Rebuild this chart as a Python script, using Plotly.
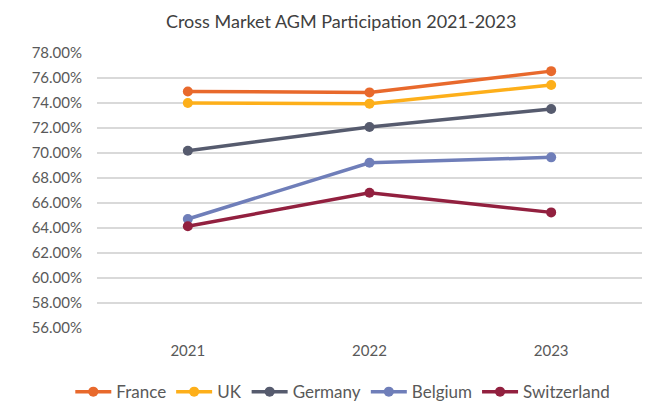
import plotly.graph_objects as go

years = ["2021", "2022", "2023"]
france = [74.92, 74.85, 76.55]
uk = [74.0, 73.95, 75.44]
germany = [70.18, 72.08, 73.52]
belgium = [64.72, 69.22, 69.65]
switzerland = [64.14, 66.82, 65.25]

series = [
    ("France", france, "#E8692C"),
    ("UK", uk, "#FDAF1A"),
    ("Germany", germany, "#565B6E"),
    ("Belgium", belgium, "#6F7EB9"),
    ("Switzerland", switzerland, "#92203F"),
]

fig = go.Figure()
for name, vals, color in series:
    fig.add_trace(go.Scatter(
        x=years, y=vals, name=name, mode="lines+markers",
        line=dict(color=color, width=3.5),
        marker=dict(color=color, size=10),
    ))

font_family = "Lato, 'Open Sans', sans-serif"
# page body has an 8px margin, so the figure is sized/offset to compensate
fig.update_layout(
    width=647, height=393,
    margin=dict(l=89, r=13, t=45, b=73, autoexpand=False),
    paper_bgcolor="white", plot_bgcolor="white",
    font=dict(family=font_family, color="#595959", size=14),
    title=dict(text="Cross Market AGM Participation 2021-2023", x=0.515, xanchor="center",
               y=0.966, yanchor="middle", font=dict(size=18, color="#404040")),
    showlegend=True,
    legend=dict(orientation="h", x=0.451, xanchor="center", y=-0.233, yanchor="middle",
                font=dict(size=17, color="#595959"), itemwidth=36, tracegroupgap=0),
    xaxis=dict(showgrid=False, showline=False, zeroline=False, ticks="",
               range=[-0.5, 2.5],
               tickfont=dict(size=15, color="#595959"), ticklabelstandoff=12),
    yaxis=dict(range=[56, 78], dtick=2, tick0=56, showgrid=True, gridcolor="#D9D9D9",
               gridwidth=1.5, zeroline=False, showline=False, ticksuffix="%",
               tickformat=".2f", tickfont=dict(size=15, color="#595959"), ticks="",
               ticklabelstandoff=14),
)

fig.write_html("out.html")
